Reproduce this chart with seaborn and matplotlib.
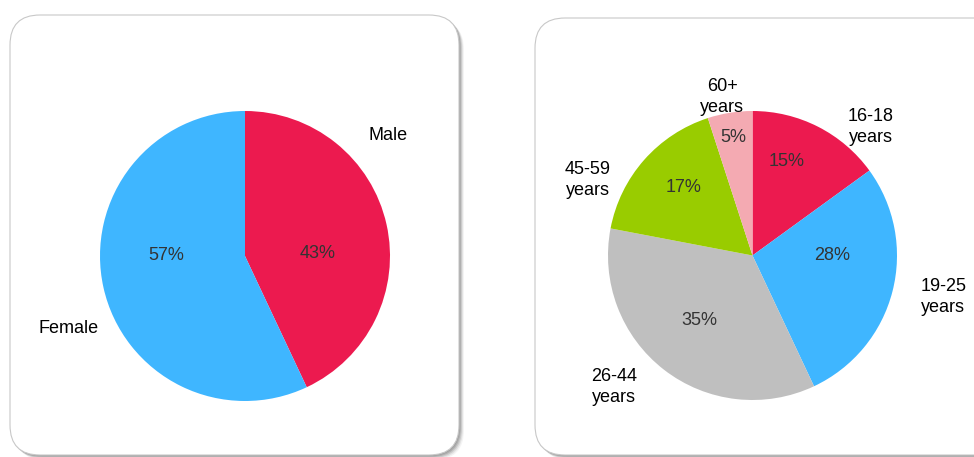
import matplotlib
matplotlib.use("Agg")
import matplotlib.pyplot as plt
import seaborn as sns
from matplotlib.patches import FancyBboxPatch
from matplotlib.transforms import IdentityTransform

# data
gender_labels = ["Male", "Female"]
gender_values = [43, 57]
gender_colors = ["#EC1A4F", "#3FB6FF"]

age_labels = ["16-18\nyears", "19-25\nyears", "26-44\nyears", "45-59\nyears", "60+\nyears"]
age_values = [15, 28, 35, 17, 5]
age_colors = ["#EC1A4F", "#3FB6FF", "#BFBFBF", "#99CC00", "#F4AAB2"]

# label placement (in pie-radius units, relative to centre)
gender_label_pos = [(0.99, 0.83), (-1.22, -0.50)]
gender_pct_pos = [(0.50, 0.02), (-0.54, 0.0)]
age_label_pos = [(0.82, 0.89), (1.32, -0.29), (-0.96, -0.91), (-1.14, 0.52), (-0.21, 1.10)]
age_pct_pos = [(0.235, 0.65), (0.55, 0.0), (-0.37, -0.45), (-0.48, 0.47), (-0.13, 0.82)]

sns.set_theme(style="white")
plt.rcParams["font.family"] = ["Liberation Sans", "DejaVu Sans"]

W, H = 974, 457
fig = plt.figure(figsize=(W / 100, H / 100), dpi=100)
fig.patch.set_facecolor("white")


def card(x0, x1, ytop, ybot):
    # soft shadow, then the white rounded card
    for off, a in [(5, 0.08), (4, 0.14), (3, 0.22), (2, 0.30), (1, 0.30)]:
        sh = FancyBboxPatch((x0 + off, H - ybot - off), x1 - x0, ybot - ytop,
                            boxstyle="round,pad=0,rounding_size=30",
                            transform=IdentityTransform(), facecolor="#777777",
                            edgecolor="none", alpha=a, zorder=0)
        fig.add_artist(sh)
    box = FancyBboxPatch((x0, H - ybot), x1 - x0, ybot - ytop,
                         boxstyle="round,pad=0,rounding_size=30",
                         transform=IdentityTransform(), facecolor="white",
                         edgecolor="#C8C8C8", linewidth=0.8, zorder=1)
    fig.add_artist(box)


card(10, 459, 15, 455)
card(535, 1010, 18, 455)


def draw_pie(cx, cy, r, values, labels, colors, label_pos, pct_pos):
    ax = fig.add_axes([(cx - r) / W, (H - cy - r) / H, 2 * r / W, 2 * r / H])
    ax.set_zorder(2)
    wedges, texts, autotexts = ax.pie(values, labels=labels, colors=colors,
                                      startangle=90, counterclock=False,
                                      autopct="%d%%", radius=1,
                                      wedgeprops=dict(linewidth=0))
    for t, p in zip(texts, label_pos):
        t.set_position(p)
        t.set_ha("center")
        t.set_va("center")
        t.set_fontsize(13)
        t.set_color("black")
        t.set_multialignment("center")
        t.set_linespacing(1.3)
    for t, p in zip(autotexts, pct_pos):
        t.set_position(p)
        t.set_fontsize(13)
        t.set_color("#333333")
    ax.set_xlim(-1, 1)
    ax.set_ylim(-1, 1)
    ax.set_aspect("equal")
    ax.axis("off")
    return ax


draw_pie(245, 256, 145, gender_values, gender_labels, gender_colors,
         gender_label_pos, gender_pct_pos)
draw_pie(752.5, 255.5, 144.5, age_values, age_labels, age_colors,
         age_label_pos, age_pct_pos)

fig.savefig("out.png", dpi=100)
